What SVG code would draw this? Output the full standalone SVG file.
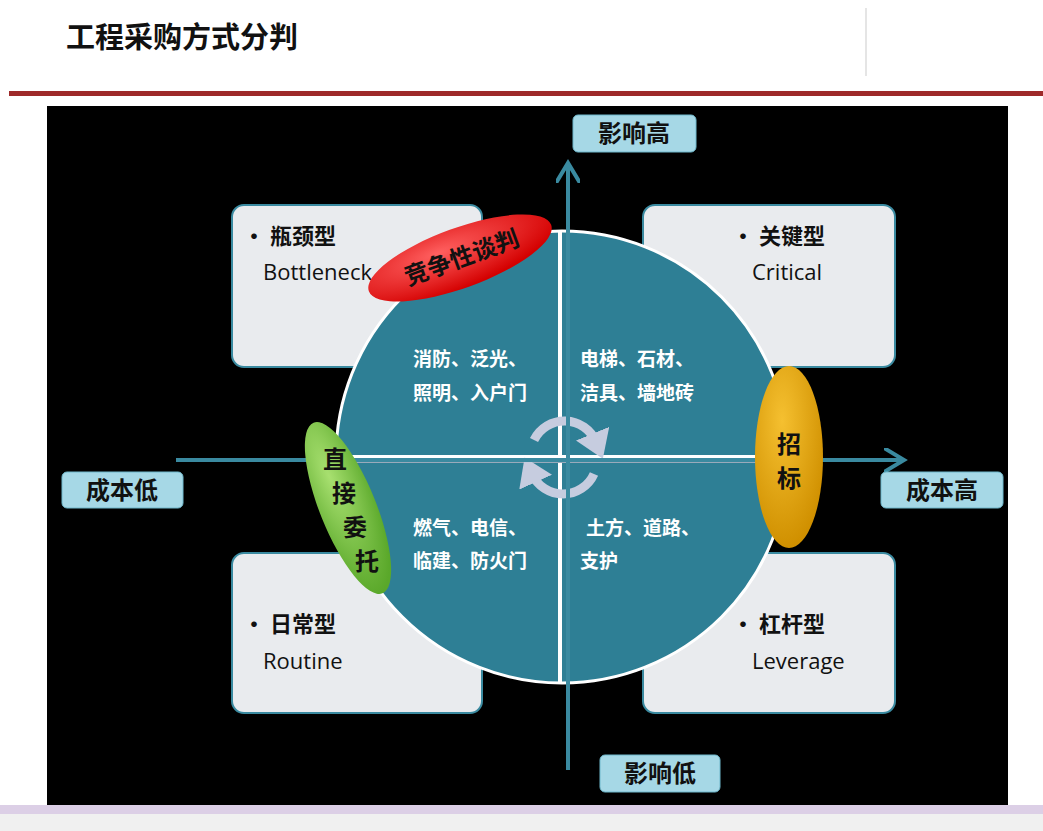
<svg xmlns="http://www.w3.org/2000/svg" width="1043" height="831" viewBox="0 0 1043 831">
<defs>
<marker id="ah" markerWidth="6" markerHeight="6" refX="4.5" refY="3" orient="auto" markerUnits="strokeWidth"><path d="M0,0 L5,3 L0,6" fill="none" stroke="#3a8aa0" stroke-width="1"/></marker>
<marker id="ca" markerWidth="4" markerHeight="4" refX="1" refY="2" orient="auto"><path d="M0,0 L3,2 L0,4 Z" fill="#c6ccdf"/></marker>
<radialGradient id="rg" cx="0.4" cy="0.3" r="0.7"><stop offset="0" stop-color="#ff6060"/><stop offset="1" stop-color="#d40000"/></radialGradient>
<radialGradient id="gg" cx="0.4" cy="0.3" r="0.7"><stop offset="0" stop-color="#a8e070"/><stop offset="1" stop-color="#5aa82a"/></radialGradient>
<radialGradient id="og" cx="0.4" cy="0.3" r="0.7"><stop offset="0" stop-color="#f5c030"/><stop offset="1" stop-color="#d09000"/></radialGradient>
</defs>
<style>
.box{fill:#e9ebee;stroke:#3a8aa0;stroke-width:2}
.lab{fill:#a6d8e6;stroke:#6fb8cc;stroke-width:1}
.lt{font-family:"Noto Sans CJK SC",sans-serif;font-weight:bold;font-size:24px;fill:#111}
.bt{font-family:"Noto Sans CJK SC",sans-serif;font-weight:bold;font-size:22px;fill:#111}
.be{font-family:"Open Sans","Noto Sans",sans-serif;font-size:22px;fill:#111}
.qt{font-family:"Noto Sans CJK SC",sans-serif;font-weight:bold;font-size:19px;fill:#fff}
.et{font-family:"Noto Sans CJK SC",sans-serif;font-weight:bold;font-size:24px;fill:#111}
</style>
<rect width="1043" height="831" fill="#fff"/>
<text x="66" y="48" font-family="Noto Sans CJK SC,sans-serif" font-weight="bold" font-size="29" fill="#111">工程采购方式分判</text>
<line x1="866" y1="8" x2="866" y2="76" stroke="#ddd" stroke-width="1.5"/>
<rect x="9" y="91" width="1034" height="5" fill="#9e2a2a"/>
<rect x="47" y="106" width="961" height="699" fill="#000"/>
<rect x="0" y="805" width="1043" height="9" fill="#dccfe6"/>
<rect x="0" y="814" width="1043" height="17" fill="#f0f0f0"/>
<g id="bottleneck"><rect class="box" x="232" y="205" width="250" height="162" rx="12"/><text class="bt" x="243" y="244">• 瓶颈型</text><text class="be" x="263" y="280">Bottleneck</text></g>
<g id="critical"><rect class="box" x="643" y="205" width="252" height="162" rx="12"/><text class="bt" x="732" y="244">• 关键型</text><text class="be" x="752" y="280">Critical</text></g>
<g id="routine"><rect class="box" x="232" y="553" width="250" height="160" rx="12"/><text class="bt" x="243" y="632">• 日常型</text><text class="be" x="263" y="669">Routine</text></g>
<g id="leverage"><rect class="box" x="643" y="553" width="252" height="160" rx="12"/><text class="bt" x="732" y="632">• 杠杆型</text><text class="be" x="752" y="669">Leverage</text></g>
<g id="circle">
<circle cx="562" cy="457" r="226" fill="#2e7f95" stroke="#fff" stroke-width="3"/>
<line x1="560" y1="231" x2="560" y2="683" stroke="#fff" stroke-width="4"/>
<line x1="337" y1="457" x2="788" y2="457" stroke="#fff" stroke-width="4"/>
<line x1="336" y1="462" x2="788" y2="462" stroke="#9ab" stroke-width="2"/>
<path d="M534,440 A34,34 0 0 1 596,442" fill="none" stroke="#c6ccdf" stroke-width="9" marker-end="url(#ca)"/>
<path d="M594,474 A34,34 0 0 1 532,474" fill="none" stroke="#c6ccdf" stroke-width="9" marker-end="url(#ca)"/>
<text class="qt" x="413" y="366">消防、泛光、</text><text class="qt" x="413" y="400">照明、入户门</text>
<text class="qt" x="580" y="366">电梯、石材、</text><text class="qt" x="580" y="400">洁具、墙地砖</text>
<text class="qt" x="413" y="535">燃气、电信、</text><text class="qt" x="413" y="568">临建、防火门</text>
<text class="qt" x="586" y="535">土方、道路、</text><text class="qt" x="580" y="568">支护</text>
</g>
<g id="connectors">
<line x1="568" y1="770" x2="568" y2="165" stroke="#3a8aa0" stroke-width="4" marker-end="url(#ah)"/>
<line x1="176" y1="460" x2="902" y2="460" stroke="#3a8aa0" stroke-width="4" marker-end="url(#ah)"/>
</g>
<g id="axis-labels">
<rect class="lab" x="573" y="115" width="123" height="37" rx="5"/><text class="lt" x="634" y="142" text-anchor="middle">影响高</text>
<rect class="lab" x="62" y="472" width="121" height="36" rx="5"/><text class="lt" x="122" y="499" text-anchor="middle">成本低</text>
<rect class="lab" x="881" y="472" width="122" height="36" rx="5"/><text class="lt" x="942" y="499" text-anchor="middle">成本高</text>
<rect class="lab" x="600" y="755" width="120" height="37" rx="5"/><text class="lt" x="660" y="782" text-anchor="middle">影响低</text>
</g>
<g id="competitive"><ellipse cx="460" cy="258" rx="97" ry="30" transform="rotate(-20 460 258)" fill="url(#rg)"/><text class="et" x="462" y="266" text-anchor="middle" transform="rotate(-20 462 258)">竞争性谈判</text></g>
<g id="direct"><ellipse cx="348" cy="508" rx="28" ry="92" transform="rotate(-22 348 508)" fill="url(#gg)"/><text class="et" x="335" y="468" text-anchor="middle">直</text><text class="et" x="344" y="502" text-anchor="middle">接</text><text class="et" x="355" y="536" text-anchor="middle">委</text><text class="et" x="367" y="570" text-anchor="middle">托</text></g>
<g id="tender"><ellipse cx="789" cy="457" rx="34" ry="91" fill="url(#og)"/><text class="et" x="789" y="453" text-anchor="middle">招</text><text class="et" x="789" y="487" text-anchor="middle">标</text></g>
</svg>
